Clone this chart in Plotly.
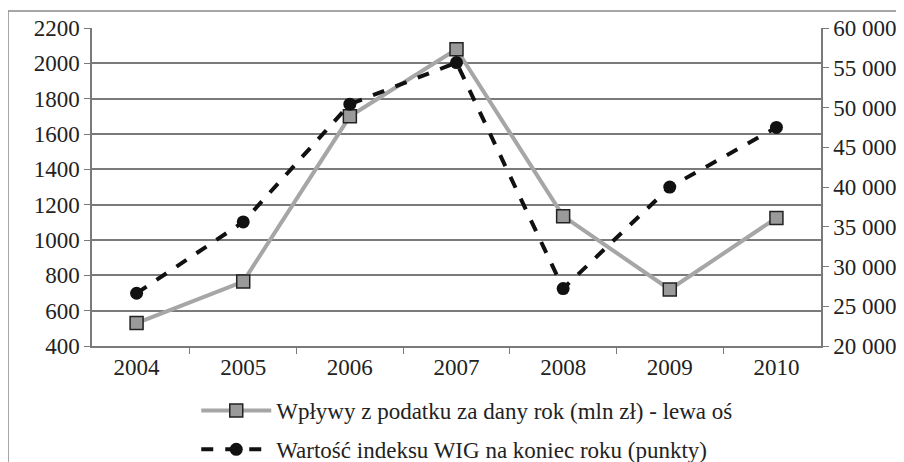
import plotly.graph_objects as go

years = ["2004", "2005", "2006", "2007", "2008", "2009", "2010"]
tax = [530, 765, 1700, 2080, 1135, 720, 1125]
wig = [26636, 35601, 50412, 55649, 27229, 39986, 47490]
left_ticks = [400, 600, 800, 1000, 1200, 1400, 1600, 1800, 2000, 2200]
right_ticks = [20000, 25000, 30000, 35000, 40000, 45000, 50000, 55000, 60000]
right_labels = ["20 000", "25 000", "30 000", "35 000", "40 000", "45 000", "50 000", "55 000", "60 000"]
name_tax = "Wpływy z podatku za dany rok (mln zł) - lewa oś"
name_wig = "Wartość indeksu WIG na koniec roku (punkty)"

font = dict(family="Liberation Serif", size=23, color="#222222")
grid = "#7a7a7a"

fig = go.Figure()
fig.add_trace(go.Scatter(
    x=years, y=tax, name=name_tax, mode="lines+markers",
    line=dict(color="#a6a6a6", width=4),
    marker=dict(symbol="square", size=13, color="#9a9a9a",
                line=dict(color="#222222", width=1.5)),
    legendgroup="a"))
fig.add_trace(go.Scatter(
    x=years, y=wig, name=name_wig, mode="lines+markers", yaxis="y2",
    line=dict(color="#111111", width=4, dash="dash"),
    marker=dict(symbol="circle", size=13, color="#111111"),
    legendgroup="b"))

fig.update_layout(
    width=896, height=462,
    margin=dict(l=84, r=83, t=20, b=124, autoexpand=False),
    paper_bgcolor="white", plot_bgcolor="white",
    font=font,
    xaxis=dict(type="category", tickson="boundaries", ticks="outside", ticklen=6,
               tickcolor=grid, showline=True, linecolor=grid, linewidth=1.5,
               showgrid=False, tickfont=font, automargin=False),
    yaxis=dict(range=[400, 2200], tickvals=left_ticks, ticks="outside", ticklen=6,
               tickcolor=grid, showline=True, linecolor=grid, linewidth=1.5,
               showgrid=True, gridcolor=grid, gridwidth=1.5, zeroline=False,
               tickfont=font, automargin=False),
    yaxis2=dict(range=[20000, 60000], tickvals=right_ticks, ticktext=right_labels,
                overlaying="y", side="right", ticks="outside", ticklen=6,
                tickcolor=grid, showline=True, linecolor=grid, linewidth=1.5,
                showgrid=False, zeroline=False, tickfont=font, automargin=False),
    showlegend=True,
    legend=dict(x=0.143, xanchor="left", y=-0.135, yanchor="top",
                orientation="v", font=font, itemwidth=70, tracegroupgap=6,
                bgcolor="rgba(0,0,0,0)"),
    shapes=[dict(type="rect", xref="paper", yref="paper",
                 x0=-84/729, x1=1 + 120/729, y0=-160/318, y1=1 + 17/318,
                 line=dict(color="#8a8a8a", width=1.5), layer="below")],
)

fig.write_html("out.html")
